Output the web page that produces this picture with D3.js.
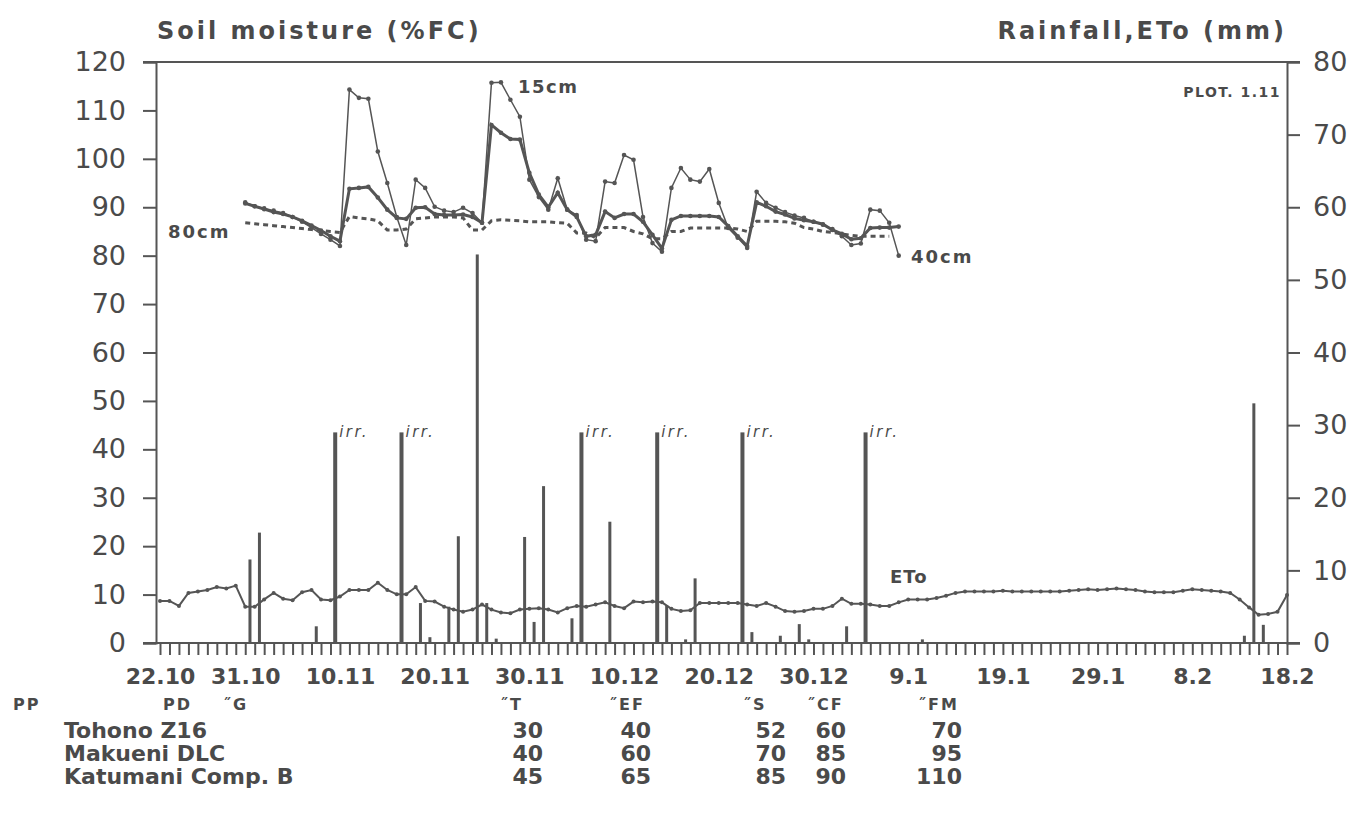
<!DOCTYPE html>
<html>
<head>
<meta charset="utf-8">
<script src="https://cdn.jsdelivr.net/npm/d3@7"></script>
<style>
  body { margin: 0; background: #fff; }
  text { font-family: "DejaVu Sans", "Liberation Sans", Arial, sans-serif; fill: #4a4a4a; }
</style>
</head>
<body>
<script>
// x axis labels (day.month)
const dayLabels = ["22.10", "31.10", "10.11", "20.11", "30.11", "10.12", "20.12", "30.12", "9.1", "19.1", "29.1", "8.2", "18.2"];

// ETo, mm/day, daily from 22.10
const etoStart = "22.10";
const etoMm = [5.8, 5.8, 5.1, 6.9, 7.1, 7.3, 7.7, 7.5, 7.9, 5.0, 5.0, 6.0, 6.9, 6.1, 5.9, 7.0, 7.3, 6.0, 5.9, 6.4,
  7.3, 7.3, 7.3, 8.3, 7.3, 6.7, 6.7, 7.7, 5.8, 5.7, 5.0, 4.6, 4.3, 4.6, 5.3, 4.6, 4.2, 4.1, 4.6, 4.7,
  4.8, 4.6, 4.2, 4.8, 5.1, 5.0, 5.3, 5.6, 5.1, 4.8, 5.7, 5.6, 5.7, 5.6, 4.7, 4.4, 4.5, 5.5, 5.5, 5.5,
  5.5, 5.5, 5.3, 5.1, 5.5, 5.0, 4.4, 4.3, 4.4, 4.7, 4.7, 5.1, 6.1, 5.4, 5.4, 5.3, 5.1, 5.1, 5.6, 6.0,
  6.0, 6.0, 6.2, 6.5, 6.9, 7.1, 7.1, 7.1, 7.1, 7.2, 7.1, 7.1, 7.1, 7.1, 7.1, 7.1, 7.2, 7.3, 7.4, 7.3,
  7.4, 7.5, 7.4, 7.3, 7.1, 7.0, 7.0, 7.0, 7.2, 7.4, 7.3, 7.2, 7.1, 6.9, 6.0, 4.9, 3.9, 4.0, 4.3, 6.6];

// soil moisture, %FC, daily from 31.10
const soilStart = "31.10";
const sm15 = [91, 90.2, 89.8, 89.3, 88.8, 88, 87, 85.8, 84.5, 83.3, 82, 114.3, 112.6, 112.4, 101.5, 95, 88, 82.2,
  95.7, 94, 90.1, 89.3, 89, 89.9, 88.8, 86.8, 115.7, 115.8, 112.2, 108.7, 95.7, 92.1, 89.5, 96, 89.5, 88.4,
  83.3, 83, 95.3, 95, 100.8, 99.8, 88, 82.6, 80.8, 94, 98.1, 95.7, 95.3, 97.9, 90.9, 85.7, 83.7, 81.6,
  93.2, 90.9, 89.9, 89, 88.3, 87.8, 87, 86.4, 85.5, 84, 82.2, 82.5, 89.5, 89.3, 86.8, 80];
const sm40 = [90.8, 90.2, 89.6, 89, 88.6, 88, 87.2, 86.2, 85.2, 84, 83, 93.8, 94, 94.2, 92, 89.5, 87.8, 87.6,
  89.9, 90, 88.6, 88.4, 88.4, 88.5, 88, 86.8, 107, 105.4, 104.1, 104, 97.1, 92.6, 90, 93, 89.5, 88,
  84, 84.3, 89.1, 87.8, 88.6, 88.6, 87, 84.3, 81.5, 87.4, 88.2, 88.2, 88.2, 88.2, 88, 86.1, 84, 82,
  91, 90.2, 89.1, 88.5, 87.7, 87.3, 87, 86.5, 85.3, 84.5, 83.4, 83.6, 85.7, 85.8, 85.8, 86];
const sm80 = [86.8, 86.6, 86.4, 86.2, 86, 85.8, 85.6, 85.4, 85.2, 85, 84.8, 88.1, 87.8, 87.6, 87.2, 85.3, 85.3, 85.5,
  87.6, 87.8, 88, 88, 88, 87.8, 85.3, 85.3, 87.2, 87.4, 87.3, 87.2, 87, 87, 87, 86.8, 86.7, 84.7,
  84.7, 83.7, 85.8, 85.8, 85.8, 85, 84.5, 83.5, 83.5, 85, 85, 85.7, 85.7, 85.7, 85.7, 85.7, 85.5, 85,
  87.1, 87.1, 87.1, 87, 86.7, 85.8, 85.5, 85, 84.8, 84.5, 84.2, 84, 84, 84, 84];

// rainfall and irrigation, mm
const rainDays = ["31.10", "1.11", "7.11", "9.11", "16.11", "18.11", "19.11", "21.11", "22.11", "24.11", "25.11",
  "26.11", "29.11", "30.11", "1.12", "4.12", "5.12", "8.12", "13.12", "14.12", "16.12", "17.12", "22.12",
  "23.12", "26.12", "28.12", "29.12", "2.1", "4.1", "10.1", "13.2", "14.2", "15.2"];
const rainMm = [11.5, 15.2, 2.3, 29, 29, 5.5, 0.8, 5, 14.7, 53.5, 5.5,
  0.6, 14.6, 2.9, 21.6, 3.4, 29, 16.7, 29, 5.2, 0.5, 8.9, 29,
  1.5, 1, 2.6, 0.5, 2.3, 29, 0.5, 1, 33, 2.5];
const irrDays = ["9.11", "16.11", "5.12", "13.12", "22.12", "4.1"];

// table below the chart
const stageHeads = ["\u02DDT", "\u02DDEF", "\u02DDS", "\u02DDCF", "\u02DDFM"];
const sites = ["Tohono Z16", "Makueni DLC", "Katumani Comp. B"];
const stageDays = [[30, 40, 52, 60, 70], [40, 60, 70, 85, 95], [45, 65, 85, 90, 110]];

const parseDay = s => {
  const [d, m] = s.split(".").map(Number);
  return new Date(Date.UTC(m >= 10 ? 1985 : 1986, m - 1, d));
};

const width = 1361, height = 834;
const ink = "#555";

const svg = d3.select("body").append("svg")
  .attr("width", width)
  .attr("height", height);

svg.append("rect").attr("width", width).attr("height", height).attr("fill", "#fff");

const x0 = parseDay(dayLabels[0]), x1 = parseDay(dayLabels[dayLabels.length - 1]);
const x = d3.scaleUtc().domain([x0, x1]).range([160, 1287]);
const yL = d3.scaleLinear().domain([0, 120]).range([643, 62]);
const yR = d3.scaleLinear().domain([0, 80]).range([643, 62]);
const dayW = x(d3.utcDay.offset(x0, 1)) - x(x0);

// frame lines
svg.append("line").attr("x1", 143).attr("x2", 1300).attr("y1", 62).attr("y2", 62)
  .attr("stroke", ink).attr("stroke-width", 2);
svg.append("line").attr("x1", 143).attr("x2", 1300).attr("y1", 643).attr("y2", 643)
  .attr("stroke", ink).attr("stroke-width", 2);

// left axis
const gL = svg.append("g").attr("transform", "translate(156,0)")
  .call(d3.axisLeft(yL).tickValues(d3.range(0, 121, 10)).tickSize(13).tickPadding(17));
gL.select(".domain").attr("stroke", ink).attr("stroke-width", 2);
gL.selectAll(".tick line").attr("stroke", ink).attr("stroke-width", 2);
gL.selectAll(".tick text").style("font-size", "27px").attr("fill", "#474747");

// right axis
const gR = svg.append("g").attr("transform", "translate(1287,0)")
  .call(d3.axisRight(yR).tickValues(d3.range(0, 81, 10)).tickSize(13).tickPadding(13));
gR.select(".domain").attr("stroke", ink).attr("stroke-width", 2);
gR.selectAll(".tick line").attr("stroke", ink).attr("stroke-width", 2);
gR.selectAll(".tick text").style("font-size", "27px").attr("fill", "#474747");

// daily ticks
const gD = svg.append("g").attr("transform", "translate(0,643)")
  .call(d3.axisBottom(x).tickValues(d3.utcDay.range(x0, d3.utcDay.offset(x1, 1))).tickSize(12).tickFormat(""));
gD.select(".domain").remove();
gD.selectAll(".tick line").attr("stroke", ink).attr("stroke-width", 2);

// date labels
const gX = svg.append("g").attr("transform", "translate(0,643)")
  .call(d3.axisBottom(x).tickValues(dayLabels.map(parseDay)).tickSize(0).tickPadding(25)
    .tickFormat(d => `${d.getUTCDate()}.${d.getUTCMonth() + 1}`));
gX.select(".domain").remove();
gX.selectAll(".tick text").style("font-size", "22px").style("font-weight", "bold").attr("fill", "#4a4a4a");

// rain / irrigation bars
const rain = rainDays.map((s, i) => ({ date: parseDay(s), mm: rainMm[i], irr: irrDays.includes(s) }));
svg.append("g").selectAll("rect")
  .data(rain)
  .join("rect")
  .attr("x", d => x(d.date) + dayW / 2 - (d.irr ? 2 : 1.5))
  .attr("width", d => d.irr ? 4 : 3)
  .attr("y", d => yR(d.mm))
  .attr("height", d => yR(0) - yR(d.mm))
  .attr("fill", ink);

svg.append("g").selectAll("text")
  .data(rain.filter(d => d.irr))
  .join("text")
  .attr("x", d => x(d.date) + dayW / 2 + 4)
  .attr("y", d => yR(d.mm) + 5)
  .style("font-size", "15px")
  .style("font-style", "italic")
  .style("letter-spacing", "2.5px")
  .text("irr.");

// ETo line
const eto = etoMm.map((v, i) => ({ date: d3.utcDay.offset(parseDay(etoStart), i), v }));
svg.append("path")
  .datum(eto)
  .attr("fill", "none")
  .attr("stroke", ink)
  .attr("stroke-width", 2)
  .attr("d", d3.line().x(d => x(d.date)).y(d => yR(d.v)));
svg.append("g").selectAll("circle")
  .data(eto)
  .join("circle")
  .attr("cx", d => x(d.date))
  .attr("cy", d => yR(d.v))
  .attr("r", 2)
  .attr("fill", ink);

// soil moisture lines
const toSeries = arr => arr.map((v, i) => ({ date: d3.utcDay.offset(parseDay(soilStart), i), v }));
const smLine = d3.line().x(d => x(d.date)).y(d => yL(d.v));

const s80 = toSeries(sm80);
svg.append("path").datum(s80)
  .attr("fill", "none").attr("stroke", ink).attr("stroke-width", 3)
  .attr("stroke-dasharray", "5,4")
  .attr("d", smLine);

const s40 = toSeries(sm40);
svg.append("path").datum(s40)
  .attr("fill", "none").attr("stroke", ink).attr("stroke-width", 3)
  .attr("d", smLine);

const s15 = toSeries(sm15);
svg.append("path").datum(s15)
  .attr("fill", "none").attr("stroke", ink).attr("stroke-width", 1.5)
  .attr("d", smLine);

[s15, s40].forEach(s => {
  svg.append("g").selectAll("circle")
    .data(s)
    .join("circle")
    .attr("cx", d => x(d.date))
    .attr("cy", d => yL(d.v))
    .attr("r", 2.3)
    .attr("fill", ink);
});

// series labels
const label = (tx, ty, t, size, ls) => svg.append("text")
  .attr("x", tx).attr("y", ty)
  .style("font-size", size + "px").style("font-weight", "bold")
  .style("letter-spacing", (ls || 0) + "px")
  .text(t);
label(518, 93, "15cm", 18, 1.5);
label(168, 238, "80cm", 18, 2);
label(911, 263, "40cm", 18, 2);
label(890, 583, "ETo", 18, 1);
label(1281, 97, "PLOT. 1.11", 14, 1.5).attr("text-anchor", "end");

// titles
label(157, 39, "Soil moisture (%FC)", 24, 3);
label(1287, 39, "Rainfall,ETo (mm)", 24, 3).attr("text-anchor", "end");

// table
const head = (tx, t) => svg.append("text").attr("x", tx).attr("y", 710)
  .style("font-size", "16px").style("font-weight", "bold")
  .style("letter-spacing", "2px").text(t);
head(13, "PP");
head(163, "PD");
head(223, "\u02DDG");
const headX = [500, 609, 743, 807, 918];
stageHeads.forEach((h, i) => head(headX[i], h));

const colRight = [543, 651, 786, 846, 962];
sites.forEach((s, r) => {
  const yy = 738 + r * 23;
  svg.append("text").attr("x", 64).attr("y", yy)
    .style("font-size", "22px").style("font-weight", "bold").text(s);
  stageDays[r].forEach((v, i) => {
    svg.append("text").attr("x", colRight[i]).attr("y", yy)
      .attr("text-anchor", "end")
      .style("font-size", "22px").style("font-weight", "bold").text(v);
  });
});
</script>
</body>
</html>
